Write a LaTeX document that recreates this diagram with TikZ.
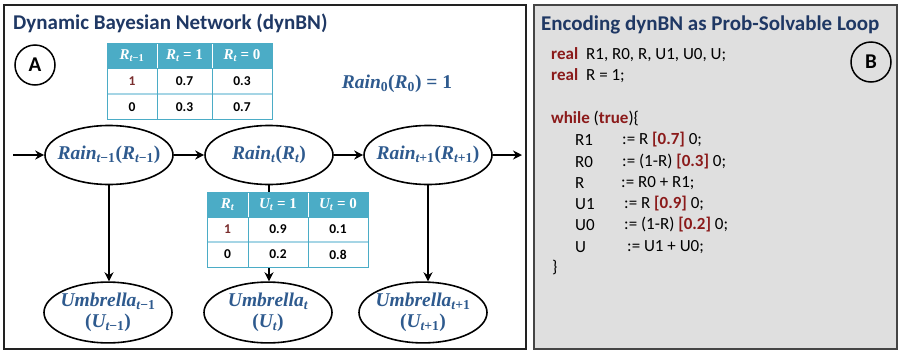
\documentclass[tikz,border=0pt]{standalone}
\usepackage{fontspec}
\setmainfont{Carlito}
\newfontfamily\mserif{Liberation Serif}
\usetikzlibrary{shapes.geometric,arrows.meta}
\definecolor{ttl}{HTML}{1F3864}
\definecolor{nodeblue}{HTML}{2E5A8E}
\definecolor{kw}{HTML}{8B1A1A}
\definecolor{hdr}{HTML}{4BACC6}
\definecolor{rowline}{HTML}{A5D5E5}
\definecolor{one}{HTML}{7A2E2E}
\definecolor{panelB}{HTML}{DFDFDF}
\definecolor{frameA}{HTML}{222222}
\definecolor{frameB}{HTML}{454545}
\newcommand\vb[1]{{\mserif\bfseries\itshape #1}}
\newcommand\nb[1]{{\mserif\bfseries #1}}
\newcommand\sbs[1]{\textsubscript{#1}}
\newcommand\tmo{\sbs{\vb{t}\nb{−1}}}
\newcommand\tpo{\sbs{\vb{t}\nb{+1}}}
\begin{document}
\begin{tikzpicture}[x=1pt,y=-1pt,
  rainnode/.style={ellipse, draw, line width=1.6pt, minimum width=128pt, minimum height=59pt, inner sep=0pt, text=nodeblue, font=\fontsize{19.5}{22}\selectfont},
  conn/.style={line width=2.6pt, -{Stealth[length=9pt,width=9pt]}},
  hd/.style={text=white, inner sep=0pt, font=\fontsize{15}{17}\selectfont},
  bd/.style={inner sep=0pt, font=\fontsize{13.5}{15}\selectfont\bfseries},
  code/.style={anchor=west, inner sep=0pt, font=\fontsize{17}{20}\selectfont},
  lettercirc/.style={circle, draw, line width=1.5pt, minimum size=40pt, inner sep=0pt, font=\fontsize{21}{24}\selectfont\bfseries},
  titletext/.style={anchor=west, inner sep=0pt, text=ttl, font=\fontsize{21}{24}\selectfont\bfseries}
]
\useasboundingbox (0,0) rectangle (900,354);

% panels
\draw[line width=2.6pt, frameA] (4,5) rectangle (526,349);
\draw[line width=2.6pt, frameB, fill=panelB] (534,5) rectangle (897,349);

% titles and letters
\node[titletext] (titleA) at (13,23) {Dynamic Bayesian Network (dynBN)};
\node[titletext] (titleB) at (541,25) {Encoding dynBN as Prob-Solvable Loop};
\node[lettercirc] (A) at (35,65) {A};
\node[lettercirc] (B) at (871,62) {B};

% network nodes
\node[rainnode] (r1) at (109,155) {\makebox[0pt]{\vb{Rain}\tmo\nb{(}\vb{R}\tmo\nb{)}}};
\node[rainnode] (r2) at (269,155) {\makebox[0pt]{\vb{Rain}\sbs{\vb{t}}\nb{(}\vb{R}\sbs{\vb{t}}\nb{)}}};
\node[rainnode] (r3) at (428,155) {\makebox[0pt]{\vb{Rain}\tpo\nb{(}\vb{R}\tpo\nb{)}}};
\node[rainnode] (u1) at (108,312.5) {\makebox[0pt]{\begin{tabular}{@{}c@{}}\vb{Umbrella}\tmo\\[-1pt]\nb{(}\vb{U}\tmo\nb{)}\end{tabular}}};
\node[rainnode] (u2) at (268,312.5) {\makebox[0pt]{\begin{tabular}{@{}c@{}}\vb{Umbrella}\sbs{\vb{t}}\\[-1pt]\nb{(}\vb{U}\sbs{\vb{t}}\nb{)}\end{tabular}}};
\node[rainnode] (u3) at (423,312.5) {\makebox[0pt]{\begin{tabular}{@{}c@{}}\vb{Umbrella}\tpo\\[-1pt]\nb{(}\vb{U}\tpo\nb{)}\end{tabular}}};
\node[text=nodeblue, font=\fontsize{19.5}{22}\selectfont] (rain0) at (397,84) {\vb{Rain}\sbs{\nb{0}}\nb{(}\vb{R}\sbs{\nb{0}}\nb{) = 1}};

% connectors
\coordinate (in) at (13,155);
\coordinate (out) at (522,155);
\draw[conn] (in) -- (r1.west);
\draw[conn] (r1.east) -- (r2.west);
\draw[conn] (r2.east) -- (r3.west);
\draw[conn] (r3.east) -- (out);
\draw[conn] (r1.south) -- (r1.south |- u1.north);
\draw[conn] (r2.south) -- (r2.south |- u2.north);
\draw[conn] (r3.south) -- (r3.south |- u3.north);

% table 1
\fill[hdr] (107,43) rectangle (272,68);
\fill[white] (107,68) rectangle (272,119);
\draw[rowline, line width=1.5pt] (107,94) -- (272,94);
\draw[white, line width=0.8pt] (157,43) -- (157,68) (212,43) -- (212,68);
\draw[hdr, line width=1pt] (157,68) -- (157,119) (212,68) -- (212,119) (107,68) -- (272,68);
\draw[hdr, line width=1pt] (107,43) rectangle (272,119);
\node[hd] (t1h1) at (132,55.5) {\vb{R}\tmo};
\node[hd] (t1h2) at (184.5,55.5) {\vb{R}\sbs{\vb{t}}\nb{ = 1}};
\node[hd] (t1h3) at (242,55.5) {\vb{R}\sbs{\vb{t}}\nb{ = 0}};
\node[bd, text=one] (t1a1) at (132,81.5) {1};
\node[bd] (t1a2) at (184.5,81.5) {0.7};
\node[bd] (t1a3) at (242,81.5) {0.3};
\node[bd] (t1b1) at (132,107) {0};
\node[bd] (t1b2) at (184.5,107) {0.3};
\node[bd] (t1b3) at (242,107) {0.7};

% table 2
\fill[hdr] (207,192) rectangle (368,217);
\fill[white] (207,217) rectangle (368,267);
\draw[rowline, line width=1.5pt] (207,242) -- (368,242);
\draw[white, line width=0.8pt] (248,192) -- (248,217) (308,192) -- (308,217);
\draw[hdr, line width=1pt] (248,217) -- (248,267) (308,217) -- (308,267) (207,217) -- (368,217);
\draw[hdr, line width=1pt] (207,192) rectangle (368,267);
\node[hd] (t2h1) at (227.5,204.5) {\vb{R}\sbs{\vb{t}}};
\node[hd] (t2h2) at (278,204.5) {\vb{U}\sbs{\vb{t}}\nb{ = 1}};
\node[hd] (t2h3) at (338,204.5) {\vb{U}\sbs{\vb{t}}\nb{ = 0}};
\node[bd, text=one] (t2a1) at (227.5,229.5) {1};
\node[bd] (t2a2) at (278,229.5) {0.9};
\node[bd] (t2a3) at (338,229.5) {0.1};
\node[bd] (t2b1) at (227.5,254.5) {0};
\node[bd] (t2b2) at (278,254.5) {0.2};
\node[bd] (t2b3) at (338,254.5) {0.8};

% code
\node[code] (c1) at (551,55) {\textcolor{kw}{\textbf{real}}\hspace{8pt}R1, R0, R, U1, U0, U;};
\node[code] (c2) at (551,76) {\textcolor{kw}{\textbf{real}}\hspace{8pt}R = 1;};
\node[code] (c3) at (551,118) {\textcolor{kw}{\textbf{while}} (\textcolor{kw}{\textbf{true}})\{};
\node[code] (c4n) at (575,140) {R1};
\node[code] (c4v) at (622,140) {:= R \textcolor{kw}{\textbf{[0.7]}} 0;};
\node[code] (c5n) at (575,162) {R0};
\node[code] (c5v) at (622,162) {:= (1-R) \textcolor{kw}{\textbf{[0.3]}} 0;};
\node[code] (c6n) at (575,183) {R};
\node[code] (c6v) at (621,183) {:= R0 + R1;};
\node[code] (c7n) at (575,204) {U1};
\node[code] (c7v) at (624,204) {:= R \textcolor{kw}{\textbf{[0.9]}} 0;};
\node[code] (c8n) at (575,225) {U0};
\node[code] (c8v) at (624,225) {:= (1-R) \textcolor{kw}{\textbf{[0.2]}} 0;};
\node[code] (c9n) at (575,247) {U};
\node[code] (c9v) at (627,247) {:= U1 + U0;};
\node[code] (c10) at (552,268) {\}};
\end{tikzpicture}
\end{document}
